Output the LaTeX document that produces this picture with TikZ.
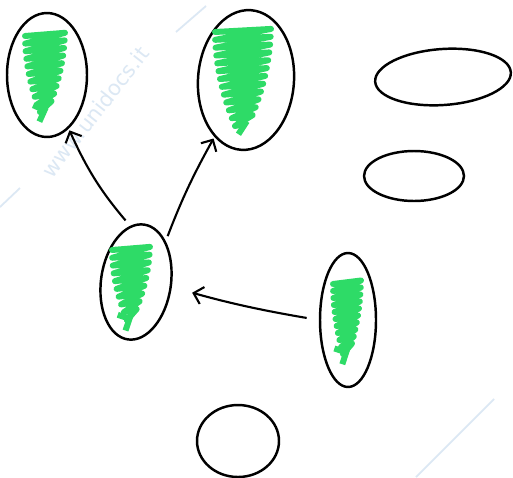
\documentclass[tikz,border=0pt]{standalone}
\usepackage{xcolor}
\usepackage{fontspec}
\setsansfont{DejaVu Sans}
\usetikzlibrary{arrows.meta, positioning, shapes.geometric}
\definecolor{scribgreen}{HTML}{2EDB67}
\definecolor{wmark}{HTML}{DCE8F4}
\tikzset{blob/.style={ellipse, draw=black, line width=1.4pt, inner sep=0pt},
	scribble/.style={draw=scribgreen, line width=3.4pt, line cap=round, line join=round}}
% zigzag fill: cx, ytop, ybot, half width top, half width bottom, strokes
\newcommand{\scrib}[6]{%
	\draw[scribble] ({#1-#4},{#2+4}) \foreach \i in {0,...,#6}{
		-- ({#1-(#4+(#5-#4)*(\i/#6)^2)},{#2+(#3-#2)*\i/#6+4})
		-- ({#1+(#4+(#5-#4)*((\i+0.5)/#6)^2)},{#2+(#3-#2)*(\i+0.5)/#6-3})};}
\begin{document}
\begin{tikzpicture}[->,
			>={Straight Barb[length=5pt, width=10pt]},
			x=0.02cm, y=-0.02cm,
			line width=1.2pt]
			\useasboundingbox[fill=white] (0,0) rectangle (513,477);
			
			% watermark
			\node[wmark, rotate=52, font=\sffamily\large] (wm) at (95,112) {www.unidocs.it};
			\draw[-, wmark, line width=1pt] (176,32) -- (206,6);
			\draw[-, wmark, line width=1pt] (0,207) -- (20,188);
			\draw[-, wmark, line width=1pt] (416,477) -- (494,399);
			
			\node[blob, minimum width=1.6cm, minimum height=2.48cm] (tl) at (47,75) {};
			\node[blob, minimum width=1.92cm, minimum height=2.8cm, rotate=-4] (tm) at (246,80) {};
			\node[blob, minimum width=2.72cm, minimum height=1.12cm, rotate=4] (tr) at (443,77) {};
			\node[blob, minimum width=2.0cm, minimum height=1.0cm] (rs) at (414,176) {};
			\node[blob, minimum width=1.4cm, minimum height=2.32cm, rotate=-8] (mid) at (136,282) {};
			\node[blob, minimum width=1.12cm, minimum height=2.68cm] (rt) at (348,320) {};
			\node[blob, minimum width=1.64cm, minimum height=1.44cm] (bot) at (238,441) {};
			
			\scrib{45}{32}{108}{20}{5}{10}
			\scrib{243}{28}{122}{28}{8}{12}
			\scrib{131}{246}{316}{19}{4}{9}
			\scrib{347}{280}{350}{14}{4}{10}
			
			\draw[shorten <=4pt, shorten >=1pt] (mid.104) to[bend left=8] (tl.-68);
			\draw[shorten <=3pt, shorten >=1pt] (mid.62) to[bend left=4] (tm.-115);
			\draw[shorten <=7pt, shorten >=12pt] (rt.west) to[bend left=3] (mid.east);
		\end{tikzpicture}
\end{document}
